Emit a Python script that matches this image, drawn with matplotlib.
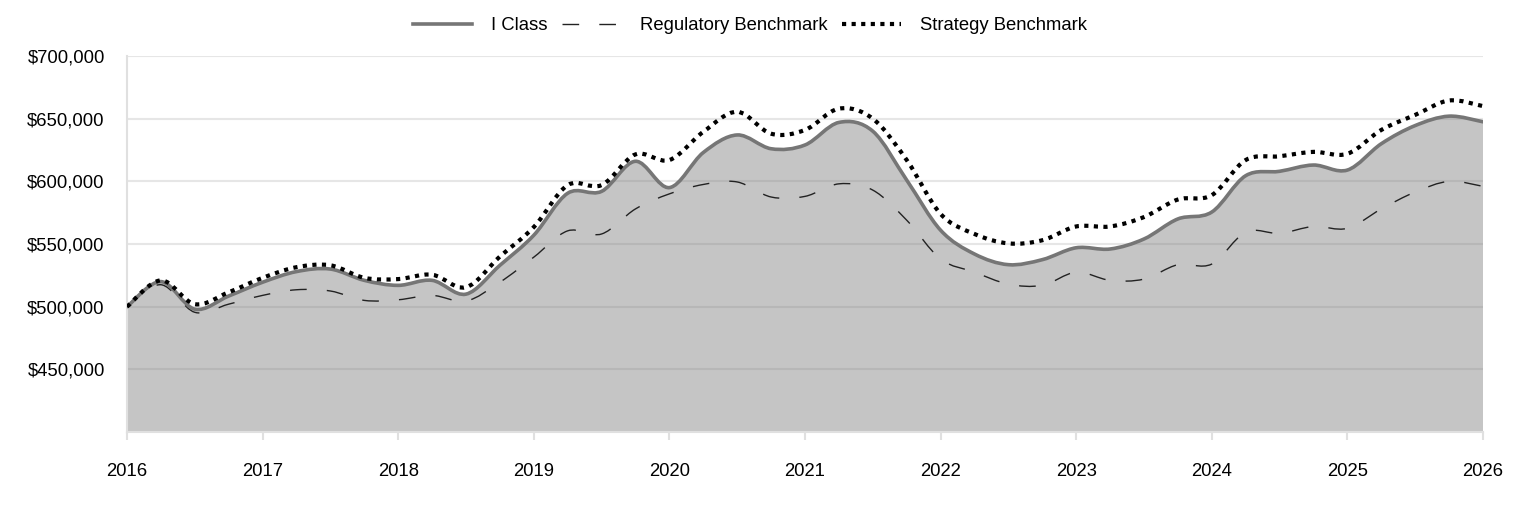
import numpy as np
import matplotlib
matplotlib.use("Agg")
import matplotlib.pyplot as plt
from matplotlib.path import Path
from matplotlib.patches import PathPatch
from matplotlib.lines import Line2D
from matplotlib.ticker import FuncFormatter

plt.rcParams['font.family'] = ['Liberation Sans', 'DejaVu Sans']

# quarterly dates, 2016 Q1 -> 2026
dates = [2016 + q / 4 for q in range(41)]

i_class = [500000, 520000, 498000, 508500, 519500, 528000, 530000, 521000, 517000, 521000,
           510000, 533000, 557000, 590500, 592000, 616000, 595000, 623000, 637000, 626000,
           629000, 647000, 640000, 601000, 561000, 542000, 533500, 537500, 547000, 546000,
           554000, 570000, 575500, 604500, 608000, 613000, 609000, 630000, 644500, 652000,
           647500]

regulatory = [500000, 517500, 495500, 502000, 509000, 513500, 512500, 505000, 505500, 509000,
              504500, 519500, 539500, 560500, 558000, 578000, 590000, 597500, 599500, 587500,
              588000, 598000, 593000, 569000, 538000, 527500, 518000, 517000, 527500, 521000,
              522000, 533500, 534000, 559500, 558500, 564000, 562500, 578000, 591500, 600000,
              596000]

strategy = [500000, 521000, 502000, 511500, 523000, 531500, 533000, 523000, 522000, 525500,
            515500, 540000, 563500, 597000, 597000, 621500, 617000, 639500, 655500, 638000,
            641000, 658000, 650000, 617000, 574000, 558000, 550500, 553000, 564000, 564000,
            571500, 585500, 589000, 617000, 620000, 623500, 622000, 641000, 653000, 664500,
            660000]

years = list(range(2016, 2027))
y_ticks = [450000, 500000, 550000, 600000, 650000, 700000]


def smooth_path(x, y, close_to=None):
    # catmull-rom segments turned into cubic bezier curves
    x = np.asarray(x, float)
    y = np.asarray(y, float)
    pts = np.column_stack([x, y])
    n = len(pts)
    verts = [pts[0]]
    codes = [Path.MOVETO]
    for i in range(n - 1):
        p0 = pts[i - 1] if i > 0 else pts[i]
        p1 = pts[i]
        p2 = pts[i + 1]
        p3 = pts[i + 2] if i + 2 < n else pts[i + 1]
        c1 = p1 + (p2 - p0) / 6
        c2 = p2 - (p3 - p1) / 6
        verts += [c1, c2, p2]
        codes += [Path.CURVE4] * 3
    if close_to is not None:
        verts += [(x[-1], close_to), (x[0], close_to), pts[0]]
        codes += [Path.LINETO, Path.LINETO, Path.CLOSEPOLY]
    return Path(verts, codes)


fig = plt.figure(figsize=(15.24, 5.16), dpi=100)
ax = fig.add_axes([127 / 1524, 1 - 432 / 516, (1483 - 127) / 1524, (432 - 56) / 516])

ymin, ymax = 400000, 700000
ax.set_xlim(2016, 2026)
ax.set_ylim(ymin, ymax)

for v in y_ticks:
    ax.axhline(v, color='#e6e6e6', lw=1.5, zorder=0)

# area under I Class
ax.add_patch(PathPatch(smooth_path(dates, i_class, close_to=ymin), facecolor='#7d7d7d',
                       edgecolor='none', alpha=0.44, zorder=1))

ax.add_patch(PathPatch(smooth_path(dates, regulatory), facecolor='none', edgecolor='#222222',
                       lw=1.0, linestyle=(0, (12, 14.5)), zorder=3))
ax.add_patch(PathPatch(smooth_path(dates, i_class), facecolor='none', edgecolor='#767676',
                       lw=2.6, zorder=4, capstyle='round'))
ax.add_patch(PathPatch(smooth_path(dates, strategy), facecolor='none', edgecolor='#000000',
                       lw=3.0, linestyle=(0, (1.0, 1.3)), zorder=5, capstyle='butt'))

ax.set_xticks(years)
ax.set_yticks(y_ticks)
ax.yaxis.set_major_formatter(FuncFormatter(lambda v, p: f'${v:,.0f}'))
ax.tick_params(axis='x', length=6, width=1.5, color='#e0e0e0', pad=16, labelsize=13.3)
ax.tick_params(axis='y', length=0, pad=16, labelsize=13.3)

for s in ['top', 'right']:
    ax.spines[s].set_visible(False)
for s in ['left', 'bottom']:
    ax.spines[s].set_color('#e0e0e0')
    ax.spines[s].set_linewidth(1.5)

handles = [
    Line2D([], [], color='#767676', lw=2.6),
    Line2D([], [], color='#222222', lw=1.0, linestyle=(0, (12, 14.5))),
    Line2D([], [], color='#000000', lw=3.0, linestyle=(0, (1.0, 1.3)), dash_capstyle='butt'),
]
fig.legend(handles, ['I Class', 'Regulatory Benchmark', 'Strategy Benchmark'],
           loc='center', bbox_to_anchor=(750 / 1524, 1 - 26 / 516), ncol=3, frameon=False,
           fontsize=13.3, handlelength=3.2, handletextpad=1.0, columnspacing=0.8)

fig.savefig('out.png', dpi=100)
